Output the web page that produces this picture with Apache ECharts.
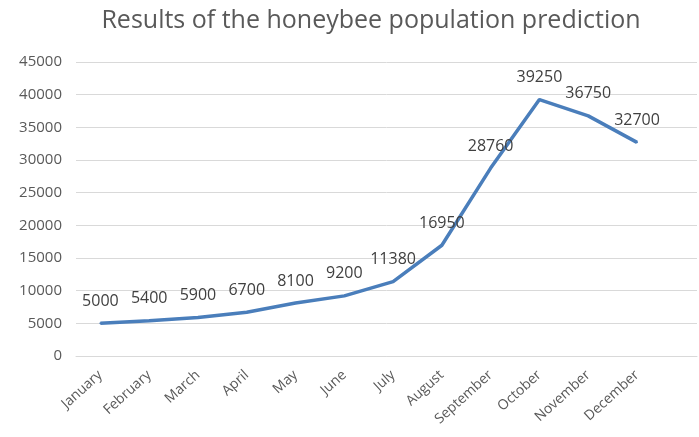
<!DOCTYPE html>
<html><head><meta charset="utf-8">
<script src="https://cdn.jsdelivr.net/npm/echarts@6/dist/echarts.min.js"></script>
<style>html,body{margin:0;padding:0;background:#fff}#c{width:699px;height:437px}</style>
</head><body><div id="c"></div>
<script>
var categories = ['January','February','March','April','May','June','July','August','September','October','November','December'];
var population = [5000,5400,5900,6700,8100,9200,11380,16950,28760,39250,36750,32700];
var yTicks = {min:0, max:45000, step:5000};
var seriesData = population.map(function(v,i){return [i,v];});
var chart = echarts.init(document.getElementById('c'));
chart.setOption({
  animation:false,
  title:{text:'Results of the honeybee population prediction',left:366,textAlign:'center',top:3,
    textStyle:{fontFamily:'Open Sans',fontSize:25,fontWeight:'normal',color:'#595959'}},
  grid:{left:76,right:2,top:62,bottom:81},
  xAxis:{type:'value',min:-0.5,max:12.23,interval:0.5,
    splitLine:{show:false},
    axisLine:{lineStyle:{color:'#d9d9d9'}},axisTick:{show:false},
    axisLabel:{rotate:42,color:'#595959',fontFamily:'Open Sans',fontSize:14,margin:17,showMinLabel:true,showMaxLabel:false,
      formatter:function(v){var i=Math.round(v);return (Math.abs(v-i)<1e-6 && categories[i])?categories[i]:'';}}},
  yAxis:{type:'value',min:yTicks.min,max:yTicks.max,interval:yTicks.step,
    axisLine:{show:false},axisTick:{show:false},
    splitLine:{lineStyle:{color:'#d9d9d9'}},
    axisLabel:{color:'#595959',fontFamily:'Open Sans',fontSize:15,margin:14,formatter:function(v){return String(v);}}},
  series:[{type:'line',data:seriesData,showSymbol:true,symbol:'circle',symbolSize:2,
    itemStyle:{color:'#4a7ebb'},
    lineStyle:{color:'#4a7ebb',width:3.5},
    label:{show:true,position:'top',distance:13,color:'#404040',fontFamily:'Open Sans',fontSize:16,
      formatter:function(p){return String(p.value[1]);}}}]
});
</script></body></html>
